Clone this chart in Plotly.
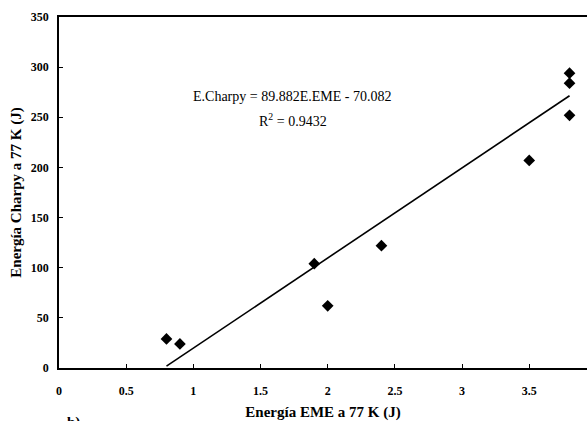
import plotly.graph_objects as go

# Data
eme = [0.8, 0.9, 1.9, 2.0, 2.4, 3.5, 3.8, 3.8, 3.8]
charpy = [29, 24, 104, 62, 122, 207, 252, 284, 294]
slope = 89.882
intercept = -70.082
r2 = 0.9432
x_ticks = [0, 0.5, 1, 1.5, 2, 2.5, 3, 3.5]
x_tick_labels = ["0", "0.5", "1", "1.5", "2", "2.5", "3", "3.5"]
y_ticks = [0, 50, 100, 150, 200, 250, 300, 350]

fit_x = [min(eme), max(eme)]
fit_y = [slope * v + intercept for v in fit_x]

FONT = "Liberation Serif"

fig = go.Figure()
fig.add_trace(go.Scatter(x=fit_x, y=fit_y, mode="lines",
                         line=dict(color="black", width=1.6), hoverinfo="skip"))
fig.add_trace(go.Scatter(x=eme, y=charpy, mode="markers",
                         marker=dict(symbol="diamond", size=9, color="black",
                                     line=dict(width=0))))

fig.add_annotation(x=0.441, y=0.80, xref="paper", yref="paper",
                   text="E.Charpy = %.3fE.EME - %.3f" % (slope, -intercept),
                   showarrow=False, font=dict(family=FONT, size=14, color="black"))
fig.add_annotation(x=0.443, y=0.738, xref="paper", yref="paper",
                   text="R<sup>2</sup> = %.4f" % r2,
                   showarrow=False, font=dict(family=FONT, size=14, color="black"))
fig.add_annotation(x=0.028, y=-0.125, xref="paper", yref="paper",
                   text="<b>b)</b>", xanchor="center", yanchor="top",
                   showarrow=False, font=dict(family=FONT, size=15, color="black"))

fig.update_layout(
    width=587, height=421,
    margin=dict(l=59, r=0, t=17, b=53),
    paper_bgcolor="white", plot_bgcolor="white",
    showlegend=False,
    font=dict(family=FONT, color="black"),
    xaxis=dict(range=[0, 3.93], tickvals=x_ticks, ticktext=x_tick_labels,
               showgrid=False, zeroline=False, showline=True, linecolor="black",
               linewidth=1.5, mirror=True, ticks="inside", ticklen=4,
               tickcolor="black", tickwidth=1,
               tickfont=dict(family=FONT, size=12, weight="bold"),
               ticklabelstandoff=11,
               title=dict(text="<b>Energía EME a 77 K (J)</b>",
                          font=dict(family=FONT, size=15), standoff=12)),
    yaxis=dict(range=[0, 350], tickvals=y_ticks,
               showgrid=False, zeroline=False, showline=True, linecolor="black",
               linewidth=1.5, ticks="inside", ticklen=4, tickcolor="black",
               tickwidth=1,
               tickfont=dict(family=FONT, size=12, weight="bold"),
               ticklabelstandoff=6,
               title=dict(text="<b>Energía Charpy a 77 K (J)</b>",
                          font=dict(family=FONT, size=15), standoff=6)),
)

fig.write_html("out.html")
